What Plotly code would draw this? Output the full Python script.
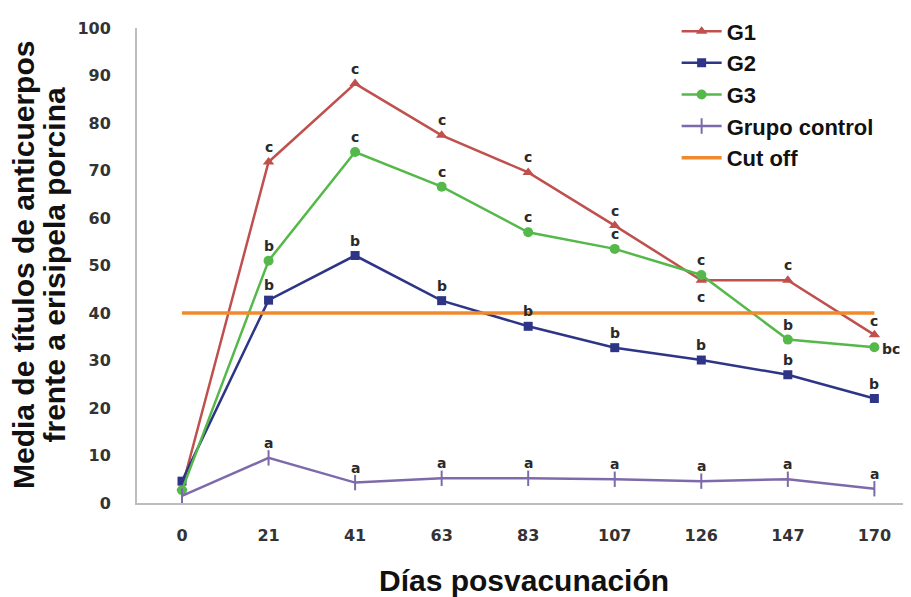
import plotly.graph_objects as go

days = ["0", "21", "41", "63", "83", "107", "126", "147", "170"]
g1 = [3.2, 71.8, 88.3, 77.4, 69.6, 58.4, 46.9, 46.9, 35.4]
g2 = [4.6, 42.7, 52.1, 42.6, 37.2, 32.7, 30.1, 27.0, 22.0]
g3 = [2.7, 51.0, 73.9, 66.6, 57.0, 53.5, 48.0, 34.4, 32.8]
control = [1.5, 9.5, 4.3, 5.2, 5.2, 5.0, 4.6, 5.0, 3.0]
cutoff = [40] * len(days)

g1_letters = ["", "c", "c", "c", "c", "c", "c", "c", "c"]
g2_letters = ["", "b", "b", "b", "b", "b", "b", "b", "b"]
g3_letters = ["", "b", "c", "c", "c", "c", "c", "b", "bc"]
control_letters = ["", "a", "a", "a", "a", "a", "a", "a", "a"]

RED = "#C0504D"
BLUE = "#2E3587"
GREEN = "#55B84A"
PURPLE = "#7E6AAA"
ORANGE = "#F08A2C"

font_t = "Liberation Sans"
font_k = "DejaVu Sans"

fig = go.Figure()
fig.add_trace(go.Scatter(x=days, y=g1, name="G1", mode="lines+markers",
                         line=dict(color=RED, width=2.5),
                         marker=dict(symbol="triangle-up", size=10, color=RED)))
fig.add_trace(go.Scatter(x=days, y=g2, name="G2", mode="lines+markers",
                         line=dict(color=BLUE, width=2.5),
                         marker=dict(symbol="square", size=9, color=BLUE)))
fig.add_trace(go.Scatter(x=days, y=g3, name="G3", mode="lines+markers",
                         line=dict(color=GREEN, width=2.5),
                         marker=dict(symbol="circle", size=10, color=GREEN)))
fig.add_trace(go.Scatter(x=days, y=control, name="Grupo control", mode="lines+markers",
                         line=dict(color=PURPLE, width=2.5),
                         marker=dict(symbol="line-ns-open", size=11,
                                     line=dict(color=PURPLE, width=2))))
fig.add_trace(go.Scatter(x=days, y=cutoff, name="Cut off", mode="lines",
                         line=dict(color=ORANGE, width=3.5)))

annotations = []

def add_letters(values, letters, shifts):
    for i, (v, t, s) in enumerate(zip(values, letters, shifts)):
        if not t:
            continue
        annotations.append(dict(x=i, y=v, xref="x", yref="y", text=t,
                                showarrow=False, yshift=s[1], xshift=s[0],
                                font=dict(family=font_k, size=14, color="#2a2a2a",
                                          weight="bold")))

up = (0, 15)
add_letters(g1, g1_letters, [up, up, up, up, up, up, (0, -17), up, (0, 14)])
add_letters(g2, g2_letters, [up] * 9)
add_letters(g3, g3_letters, [up, up, up, up, up, up, up, up, (17, -2)])
add_letters(control, control_letters, [up] * 9)

ytitle_lines = ["Media de títulos de anticuerpos", "frente a erisipela porcina"]
for xp, line in zip([-0.1477, -0.1069], ytitle_lines):
    annotations.append(dict(xref="paper", yref="paper", x=xp, y=0.501,
                            xanchor="center", yanchor="middle",
                            text=line, textangle=-90, showarrow=False,
                            font=dict(family=font_t, size=30, color="#111",
                                      weight="bold")))
annotations.append(dict(xref="paper", yref="paper", x=0.501, y=-0.164,
                        xanchor="center", yanchor="middle",
                        text="Días posvacunación", showarrow=False,
                        font=dict(family=font_t, size=30, color="#111", weight="bold")))

fig.update_layout(
    width=903, height=589,
    margin=dict(l=129, r=2, t=13, b=94),
    plot_bgcolor="white", paper_bgcolor="white",
    showlegend=True,
    legend=dict(x=0.699, y=1.037, xanchor="left", yanchor="top",
                font=dict(family=font_t, size=22, color="#111", weight="bold"),
                tracegroupgap=0, itemwidth=40,
                bgcolor="rgba(0,0,0,0)"),
    annotations=annotations,
)
fig.update_xaxes(type="category", range=[-0.52, 8.4], showline=True,
                 linecolor="#BDBDBD", linewidth=2, showgrid=False, zeroline=False,
                 ticks="", ticklabelstandoff=17,
                 tickfont=dict(family=font_k, size=16, color="#333", weight="bold"))
fig.update_yaxes(range=[0, 100], dtick=10, showline=True, linecolor="#BDBDBD",
                 linewidth=2, showgrid=False, zeroline=False, ticks="",
                 ticklabelstandoff=21,
                 tickfont=dict(family=font_k, size=16, color="#333", weight="bold"))

fig.write_html("out.html")
